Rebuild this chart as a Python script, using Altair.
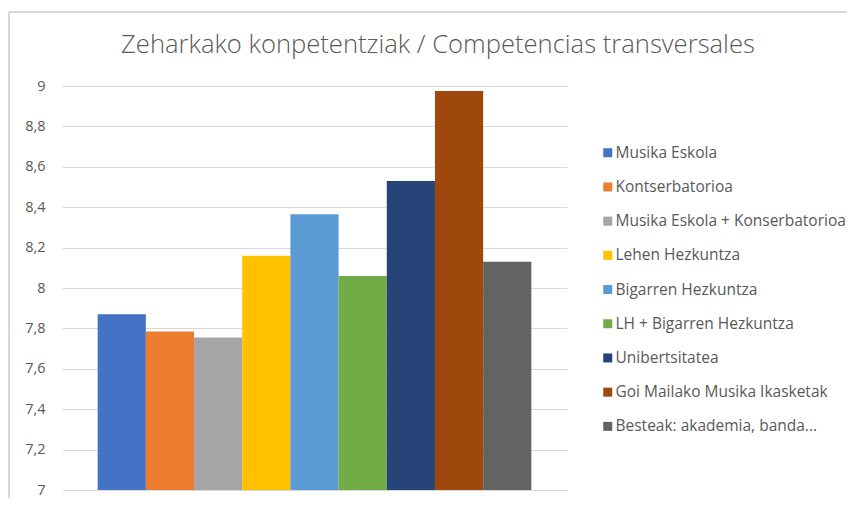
import altair as alt
import pandas as pd

categories = [
    "Musika Eskola",
    "Kontserbatorioa",
    "Musika Eskola + Konserbatorioa",
    "Lehen Hezkuntza",
    "Bigarren Hezkuntza",
    "LH + Bigarren Hezkuntza",
    "Unibertsitatea",
    "Goi Mailako Musika Ikasketak",
    "Besteak: akademia, banda...",
]
values = [7.87, 7.785, 7.755, 8.16, 8.365, 8.06, 8.53, 8.975, 8.13]
colors = ["#4472C4", "#ED7D31", "#A5A5A5", "#FFC000", "#5B9BD5",
          "#70AD47", "#264478", "#9E480E", "#636363"]
y_ticks = [7, 7.2, 7.4, 7.6, 7.8, 8, 8.2, 8.4, 8.6, 8.8, 9]
title_text = "Zeharkako konpetentziak / Competencias transversales"

df = pd.DataFrame({"cat": categories, "val": values})
title_df = pd.DataFrame({"t": [title_text]})

FONT = "Open Sans"
TXT = "#595959"
GRID = "#D9D9D9"

bars = alt.Chart(df).mark_bar().encode(
    x=alt.X("cat:N", sort=categories, axis=None,
            scale=alt.Scale(paddingInner=0, paddingOuter=0.74)),
    y=alt.Y("val:Q",
            scale=alt.Scale(domain=[7, 9], zero=False, nice=False),
            axis=alt.Axis(values=y_ticks, title=None, domain=False, ticks=False,
                          labelPadding=17, labelFontSize=14.5, labelColor=TXT,
                          labelFont=FONT, gridColor=GRID, gridWidth=1.2,
                          labelExpr="replace(format(datum.value, '.1~f'), '.', ',')")),
    y2=alt.datum(7),
    color=alt.Color("cat:N", sort=categories,
                    scale=alt.Scale(domain=categories, range=colors),
                    legend=alt.Legend(title=None, orient="none", legendX=538, legendY=59,
                                      symbolType="square", symbolSize=81,
                                      symbolStrokeWidth=0, labelFontSize=15.5,
                                      labelFont=FONT, labelColor=TXT, labelOffset=0,
                                      rowPadding=17.2, labelLimit=400, padding=0)),
)

frame_top = alt.Chart(df).mark_rule(color=GRID, strokeWidth=1.5).encode(
    x=alt.value(-53), x2=alt.value(800), y=alt.value(-74))
frame_left = alt.Chart(df).mark_rule(color=GRID, strokeWidth=1.5).encode(
    x=alt.value(-53), y=alt.value(-74), y2=alt.value(420))

title = alt.Chart(title_df).mark_text(
    font=FONT, fontSize=25.6, fontWeight=300, color=TXT,
    align="center", baseline="alphabetic",
).encode(text="t:N", x=alt.value(376), y=alt.value(-33))

chart = alt.layer(frame_top, frame_left, title, bars).properties(
    width=505, height=404,
    padding={"left": 54, "top": 78, "right": 280, "bottom": 8},
    autosize=alt.AutoSizeParams(type="none"),
).configure_view(stroke=None)

chart.save("out.html", embed_options={"renderer": "svg", "actions": False})
